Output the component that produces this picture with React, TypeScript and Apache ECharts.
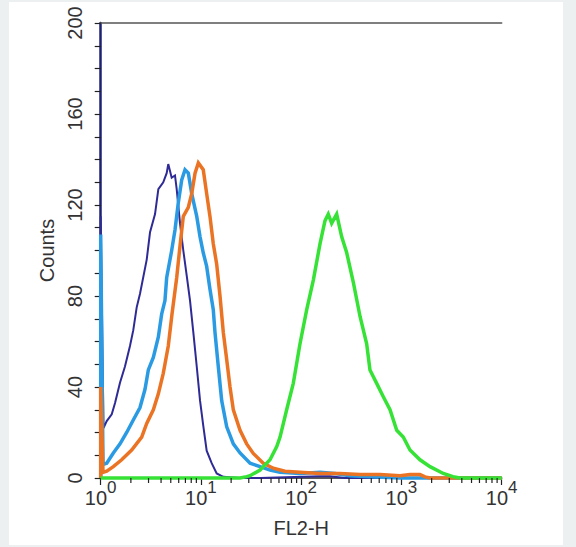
import React, { useEffect, useRef } from "react";
import * as echarts from "echarts";

// Each point: [log10(FL2-H), Counts]
const navyPoints: [number, number][] = [
  [0, 0], [0, 115], [0.028, 22], [0.06, 25], [0.11, 28], [0.143, 33], [0.193, 42], [0.242, 49],
  [0.292, 58], [0.325, 65], [0.359, 75], [0.392, 81], [0.459, 96], [0.492, 108], [0.542, 116],
  [0.575, 127], [0.624, 130], [0.658, 134], [0.674, 138], [0.708, 132], [0.741, 133], [0.758, 127],
  [0.791, 112], [0.824, 100], [0.858, 89], [0.891, 78], [0.924, 64], [0.958, 49], [0.991, 34],
  [1.023, 23], [1.057, 12], [1.107, 6.5], [1.157, 2], [1.223, 0.5], [1.39, 0], [1.59, 0],
  [2.188, 0.8], [2.287, 0.8], [2.437, 0], [2.6, 0], [4, 0],
];
const lightBluePoints: [number, number][] = [
  [0, 0], [0, 107], [0.023, 6], [0.06, 6.5], [0.126, 11], [0.193, 15], [0.259, 20], [0.325, 25.5],
  [0.392, 31], [0.442, 39], [0.475, 47.5], [0.525, 53], [0.575, 62], [0.608, 72], [0.641, 78],
  [0.658, 88], [0.708, 100], [0.741, 109], [0.774, 121], [0.808, 131], [0.841, 135.5], [0.874, 134],
  [0.908, 125], [0.958, 115], [0.991, 106], [1.023, 99], [1.057, 93], [1.09, 83], [1.123, 74],
  [1.14, 64], [1.173, 49], [1.207, 34], [1.257, 22.5], [1.323, 15], [1.39, 11], [1.49, 6.5],
  [1.59, 5], [1.689, 3.5], [1.789, 2.5], [1.988, 2], [2.188, 2.5], [2.337, 2], [2.487, 1],
  [2.686, 0.5], [2.986, 0], [4, 0],
];
const orangePoints: [number, number][] = [
  [0, 0], [0, 40], [0.023, 2.5], [0.06, 3], [0.126, 5], [0.209, 8], [0.309, 12.3], [0.409, 18],
  [0.459, 24], [0.525, 30], [0.575, 37], [0.624, 46], [0.674, 58], [0.711, 72], [0.758, 88],
  [0.791, 102], [0.824, 115], [0.874, 119], [0.908, 125], [0.941, 134], [0.974, 138.5],
  [1.023, 135.5], [1.057, 125], [1.09, 115], [1.123, 103], [1.157, 94], [1.19, 80], [1.223, 64],
  [1.257, 52], [1.29, 40], [1.323, 30], [1.39, 21], [1.456, 15], [1.522, 10.8], [1.622, 6.5],
  [1.722, 4.3], [1.838, 3], [1.988, 2.5], [2.188, 2], [2.387, 2], [2.587, 1.5], [2.786, 1.5],
  [2.986, 1], [3.085, 1.5], [3.185, 1.5], [3.235, 0.5], [3.285, 0], [4, 0],
];
const greenPoints: [number, number][] = [
  [0, 0], [1.39, 0], [1.456, 0.6], [1.49, 1], [1.59, 3.5], [1.622, 5], [1.689, 8], [1.756, 13.8],
  [1.789, 18], [1.855, 30], [1.921, 41.6], [1.988, 59], [2.055, 74], [2.121, 87], [2.188, 103],
  [2.237, 113], [2.27, 116], [2.304, 112], [2.354, 116], [2.404, 106], [2.454, 99], [2.52, 86],
  [2.587, 71], [2.653, 59], [2.686, 47.5], [2.753, 41.6], [2.819, 35.7], [2.886, 30], [2.953, 21],
  [3.018, 18], [3.085, 12.3], [3.185, 8], [3.285, 5], [3.417, 2], [3.514, 0.6], [3.584, 0], [4, 0],
];

const xMin = 1;
const xMax = 10000;
const yMin = 0;
const yMax = 200;
const yInterval = 40;
const xTitle = "FL2-H";
const yTitle = "Counts";

const FONT = "'Liberation Sans', Arial, Helvetica, sans-serif";

function toSeriesData(points: [number, number][]) {
  return points.map(([e, c]) => [Math.pow(10, e), c]);
}

export default function App() {
  const ref = useRef<HTMLDivElement>(null);
  useEffect(() => {
    if (!ref.current) return;
    const chart = echarts.init(ref.current, undefined, { renderer: "svg" });

    const minorTicks: number[] = [];
    for (let d = 0; d < 4; d++) {
      for (let k = 2; k <= 9; k++) minorTicks.push(k * Math.pow(10, d));
    }

    const lineSeries = (name: string, pts: [number, number][], color: string, width: number, z: number) => ({
      name,
      type: "line",
      data: toSeriesData(pts),
      symbol: "none",
      showSymbol: false,
      clip: false,
      z,
      lineStyle: { color, width, join: "miter" },
      emphasis: { disabled: true },
    });

    chart.setOption({
      animation: false,
      backgroundColor: "transparent",
      grid: { left: 100.7, right: 74.3, top: 23, bottom: 69, containLabel: false },
      xAxis: [
        {
          type: "log",
          logBase: 10,
          min: xMin,
          max: xMax,
          name: xTitle,
          nameLocation: "middle",
          nameGap: 40,
          nameTextStyle: { fontFamily: FONT, fontSize: 20, color: "#333" },
          axisLine: { show: true, lineStyle: { color: "#222", width: 1.5 } },
          axisTick: { show: true, length: 7, lineStyle: { color: "#222", width: 1.2 } },
          splitLine: { show: false },
          axisLabel: {
            margin: 1,
            fontFamily: FONT,
            fontSize: 20,
            color: "#333",
            formatter: (v: number) => `10{s|${Math.round(Math.log10(v))}}`,
            rich: {
              s: { fontFamily: FONT, fontSize: 17, color: "#333", padding: [0, 0, 20, 0] },
            },
          },
        },
        {
          type: "log",
          logBase: 10,
          min: xMin,
          max: xMax,
          position: "top",
          axisLine: { show: true, lineStyle: { color: "#555", width: 1.5 } },
          axisTick: { show: false },
          axisLabel: { show: false },
          splitLine: { show: false },
        },
      ],
      yAxis: {
        type: "value",
        min: yMin,
        max: yMax,
        interval: yInterval,
        name: yTitle,
        nameLocation: "middle",
        nameGap: 34,
        nameRotate: 90,
        nameTextStyle: { fontFamily: FONT, fontSize: 20, color: "#333" },
        axisLine: { show: true, lineStyle: { color: "#1d2170", width: 2.5 } },
        axisTick: { show: true, length: 6, lineStyle: { color: "#222", width: 1.2 } },
        minorTick: { show: true, splitNumber: 4, length: 6, lineStyle: { color: "#222", width: 1.2 } },
        splitLine: { show: false },
        axisLabel: {
          rotate: 90,
          margin: 16,
          fontFamily: FONT,
          fontSize: 20,
          color: "#333",
        },
      },
      series: [
        lineSeries("Isotype", navyPoints, "#2f2b96", 2, 2),
        lineSeries("Control", lightBluePoints, "#2a9be3", 3.5, 3),
        lineSeries("Sample A", orangePoints, "#ea7424", 3.5, 4),
        lineSeries("Sample B", greenPoints, "#36e236", 3.5, 5),
        {
          type: "custom",
          coordinateSystem: "cartesian2d",
          silent: true,
          clip: false,
          z: 6,
          data: minorTicks.map((v) => [v, 0]),
          renderItem: (_params: any, api: any) => {
            const p = api.coord([api.value(0), 0]);
            return {
              type: "line",
              shape: { x1: p[0], y1: p[1], x2: p[0], y2: p[1] + 5 },
              style: { stroke: "#222", lineWidth: 1.2 },
            };
          },
        },
      ],
    });
    return () => chart.dispose();
  }, []);

  return (
    <div style={{ position: "fixed", left: 0, top: 0, width: 576, height: 547, background: "#edf0f0" }}>
      <div style={{ position: "absolute", left: 9, top: 2, width: 554, height: 543, background: "#ffffff" }} />
      <div ref={ref} style={{ position: "absolute", left: 0, top: 0, width: 576, height: 547 }} />
    </div>
  );
}
